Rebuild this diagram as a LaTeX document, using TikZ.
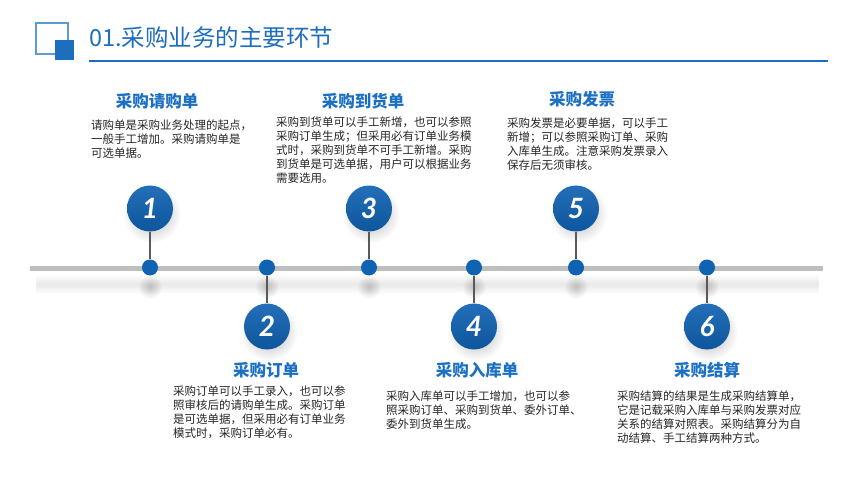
\documentclass[tikz,border=0pt]{standalone}
\usepackage{fontspec}
\setmainfont{Noto Sans CJK SC}
\newfontfamily\numfont{Lato}
\usetikzlibrary{positioning,fadings}
\definecolor{titleblue}{RGB}{30,110,190}
\definecolor{lightblue}{RGB}{91,155,213}
\definecolor{ballblue}{RGB}{16,98,178}
\definecolor{headblue}{RGB}{28,112,196}
\definecolor{bargray}{RGB}{190,190,190}
\definecolor{txtgray}{RGB}{38,38,38}
\tikzfading[name=softround, inner color=transparent!10, outer color=transparent!100]
\tikzfading[name=softband, top color=transparent!100, bottom color=transparent!100, middle color=transparent!20]
\begin{document}
\begin{tikzpicture}[x=1pt,y=-1pt,node distance={59pt},
    dot/.style={circle,fill=ballblue,inner sep=0pt,minimum size=16pt},
    num/.style={circle,inner sep=0pt,minimum size=46pt,top color=ballblue!92!white,bottom color=ballblue!88!black,
      text=white,font=\numfont\bfseries\itshape\fontsize{28}{28}\selectfont},
    softshadow/.style={fill=black,fill opacity=.35,path fading=softround},
    stem/.style={draw=gray!70!black,line width=1.1pt},
    head/.style={text=headblue,font=\bfseries\fontsize{16.5}{18}\selectfont,inner sep=0pt},
    body/.style={text=txtgray,font=\fontsize{11.5}{14}\selectfont,align=left,anchor=north west,inner sep=0pt}]
\fill[white] (0,0) rectangle (860,484);
\useasboundingbox (0,0) rectangle (860,484);
\draw[lightblue,line width=1.5pt] (36,23) rectangle (68,54);
\fill[titleblue] (55,40) rectangle (74,60);
\node[anchor=west,text=titleblue,font=\fontsize{23.5}{26}\selectfont,inner sep=0pt] (title) at (89,38) {01.采购业务的主要环节};
\draw[titleblue,line width=1.2pt] (89,61) -- (828,61);
\fill[black,fill opacity=.11,path fading=softband] (36,274) rectangle (820,294);
\fill[bargray] (30,266) rectangle (823,271);
\foreach \i/\x in {1/150,3/369,5/576} {
  \fill[softshadow,fill opacity=.22] (\x,287) circle (12);
  \fill[softshadow] (\x+2,214) circle (29);
  \node[dot] (p\i) at (\x,267.5) {};
  \node[num] (\i) [above of=p\i] {\i};
  \draw[stem] (\i) -- (p\i);
}
\foreach \i/\x in {2/267,4/474,6/707} {
  \fill[softshadow,fill opacity=.22] (\x,287) circle (12);
  \fill[softshadow] (\x+2,332) circle (29);
  \node[dot] (p\i) at (\x,267.5) {};
  \node[num] (\i) [below of=p\i] {\i};
  \draw[stem] (\i) -- (p\i);
}
\node[head] (h1) at (157,101) {采购请购单};
\node[head] (h3) at (363,101) {采购到货单};
\node[head] (h5) at (582,99) {采购发票};
\node[head] (h2) at (266,370) {采购订单};
\node[head] (h4) at (477,370) {采购入库单};
\node[head] (h6) at (707,370) {采购结算};
\node[body] (t1) at (91,120) {请购单是采购业务处理的起点，\\一般手工增加。采购请购单是\\可选单据。};
\node[body] (t3) at (276,117) {采购到货单可以手工新增，也可以参照\\采购订单生成；但采用必有订单业务模\\式时，采购到货单不可手工新增。采购\\到货单是可选单据，用户可以根据业务\\需要选用。};
\node[body] (t5) at (507,118) {采购发票是必要单据，可以手工\\新增；可以参照采购订单、采购\\入库单生成。注意采购发票录入\\保存后无须审核。};
\node[body] (t2) at (173,386) {采购订单可以手工录入，也可以参\\照审核后的请购单生成。采购订单\\是可选单据，但采用必有订单业务\\模式时，采购订单必有。};
\node[body] (t4) at (386,391) {采购入库单可以手工增加，也可以参\\照采购订单、采购到货单、委外订单、\\委外到货单生成。};
\node[body] (t6) at (617,391) {采购结算的结果是生成采购结算单，\\它是记载采购入库单与采购发票对应\\关系的结算对照表。采购结算分为自\\动结算、手工结算两种方式。};
\end{tikzpicture}
\end{document}
